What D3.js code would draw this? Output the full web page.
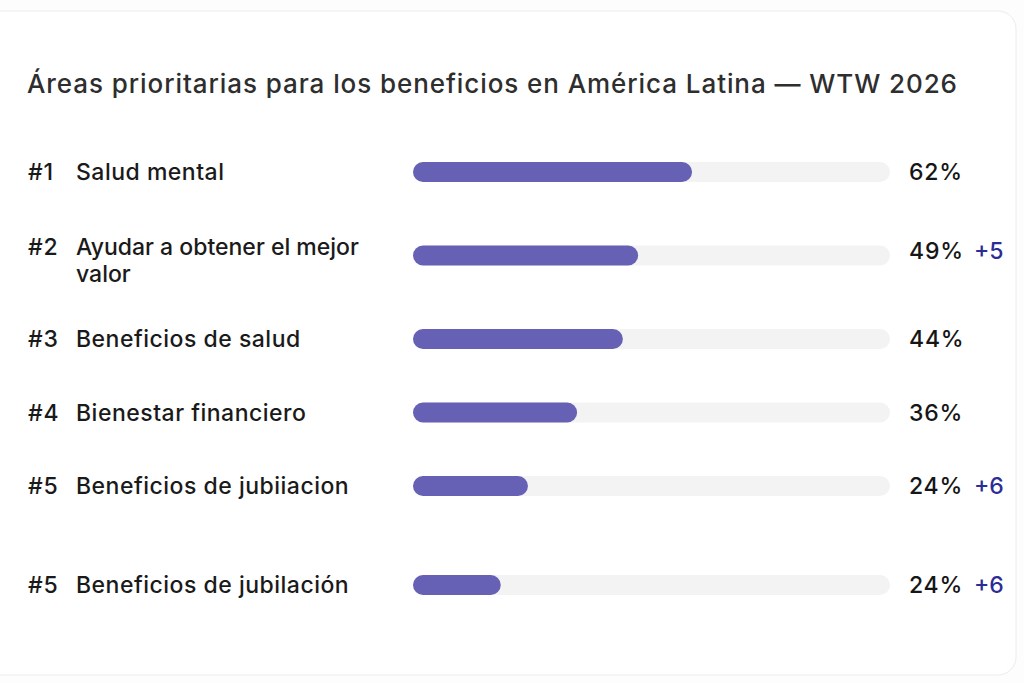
<!DOCTYPE html>
<html>
<head>
<meta charset="utf-8">
<script src="https://cdn.jsdelivr.net/npm/d3@7/dist/d3.min.js"></script>
<style>
  html, body { margin: 0; padding: 0; background: #fdfdfd; }
  svg { display: block; }
</style>
</head>
<body>
<svg id="chart" width="1024" height="683"></svg>
<script>
// ---- data ----
const title = "Áreas prioritarias para los beneficios en América Latina — WTW 2026";
const ranks = ["#1", "#2", "#3", "#4", "#5", "#5"];
const categories = [
  ["Salud mental"],
  ["Ayudar a obtener el mejor", "valor"],
  ["Beneficios de salud"],
  ["Bienestar financiero"],
  ["Beneficios de jubiiacion"],
  ["Beneficios de jubilación"]
];
const pctLabels = [62, 49, 44, 36, 24, 24];             // printed percentages
const barValues = [58.5, 47.2, 44.0, 34.4, 24.1, 18.4]; // bar fill as drawn (% of track)
const deltas = ["", "+5", "", "", "+6", "+6"];

// ---- layout ----
const svg = d3.select("#chart");
const FONT = "Inter, 'Noto Sans', sans-serif";

// card
svg.append("rect").attr("x", -20).attr("y", 11).attr("width", 1036).attr("height", 664)
  .attr("rx", 18).attr("fill", "#ffffff").attr("stroke", "#ececec").attr("stroke-width", 1);

const titleEl = svg.append("text").attr("x", 27).attr("y", 93)
  .attr("font-family", FONT).attr("font-size", 26).attr("font-weight", 500)
  .attr("fill", "#2e2e2e")
  .text(title);
// spread title to its span in the card
{
  const w = titleEl.node().getComputedTextLength();
  const target = 930;
  titleEl.attr("letter-spacing", Math.max(0, (target - w) / (title.length - 1)));
}

// vertical layout: base row step, extra for wrapped labels, extra gap before the last row
const baseStep = 73.5, wrapExtra = 20, lastGap = 25.5, firstY = 172, lineH = 27;
const rowY = [];
categories.forEach((lines, i) => {
  if (i === 0) { rowY.push(firstY); return; }
  let step = baseStep + (lines.length - 1) * wrapExtra / 2 + (categories[i - 1].length - 1) * wrapExtra / 2;
  if (i === categories.length - 1) step += lastGap;
  rowY.push(rowY[i - 1] + step);
});

const x = d3.scaleLinear().domain([0, 100]).range([413, 890]);
const barH = 20;
const FS = 23;

const rows = svg.selectAll("g.row").data(categories.map((lines, i) => ({
  lines, rank: ranks[i], pct: pctLabels[i], val: barValues[i], delta: deltas[i], y: rowY[i]
}))).join("g").attr("class", "row");

// rank
rows.append("text")
  .attr("x", 28)
  .attr("y", d => d.y + 8 - (d.lines.length - 1) * lineH / 3)
  .attr("font-family", FONT).attr("font-size", FS).attr("font-weight", 500).attr("fill", "#1a1a1a")
  .attr("letter-spacing", 0.8)
  .text(d => d.rank);

// label
rows.append("text")
  .attr("font-family", FONT).attr("font-size", FS).attr("font-weight", 500).attr("fill", "#1a1a1a")
  .attr("letter-spacing", d => d.lines.length > 1 ? 0 : 0.5)
  .each(function (d) {
    const t = d3.select(this);
    d.lines.forEach((ln, j) => {
      t.append("tspan").attr("x", 76)
        .attr("y", d.y + 8 - (d.lines.length - 1) * lineH / 3 + j * lineH)
        .text(ln);
    });
  });

// track
rows.append("rect")
  .attr("x", x(0)).attr("y", d => d.y - barH / 2)
  .attr("width", x(100) - x(0)).attr("height", barH)
  .attr("rx", barH / 2).attr("fill", "#f3f3f4");

// fill
rows.append("rect")
  .attr("x", x(0)).attr("y", d => d.y - barH / 2)
  .attr("width", d => x(d.val) - x(0)).attr("height", barH)
  .attr("rx", barH / 2).attr("fill", "#6761b6");

// percentage
rows.append("text")
  .attr("x", 909)
  .attr("y", d => d.y + 8 - (d.lines.length - 1) * 5)
  .attr("font-family", FONT).attr("font-size", FS).attr("font-weight", 500).attr("fill", "#161616")
  .attr("letter-spacing", 0.8)
  .text(d => d.pct + "%");

// delta
rows.filter(d => d.delta).append("text")
  .attr("x", 974)
  .attr("y", d => d.y + 8 - (d.lines.length - 1) * 5)
  .attr("font-family", FONT).attr("font-size", FS).attr("font-weight", 500).attr("fill", "#2c2c96")
  .text(d => d.delta);
</script>
</body>
</html>
